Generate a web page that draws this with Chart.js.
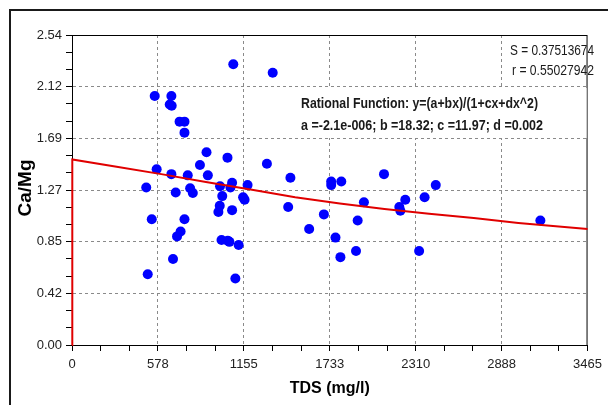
<!DOCTYPE html>
<html>
<head>
<meta charset="utf-8">
<script src="https://cdn.jsdelivr.net/npm/chart.js@4"></script>
<style>
  body { margin: 0; background: #fff; }
  #wrap { position: relative; width: 608px; height: 405px; }
</style>
</head>
<body>
<div id="wrap"><canvas id="tdsChart" width="608" height="405"></canvas></div>
<script>
//Sample values
const tds = [1084, 1349, 556, 668, 657, 670, 723, 756, 756, 904, 1045, 860, 1310, 569, 913, 668, 778, 499, 697, 794, 812, 995, 1010, 1076, 1065, 1180, 1150, 1160, 993, 984, 1076, 536, 756, 730, 706, 1005, 1047, 1058, 1120, 679, 509, 1098, 1468, 1742, 1742, 1810, 2097, 2445, 2370, 2240, 2200, 2207, 1962, 1453, 1693, 1920, 1594, 1771, 1909, 1804, 2333, 3148]
const caMg = [2.30, 2.23, 2.04, 2.04, 1.97, 1.96, 1.83, 1.83, 1.74, 1.58, 1.535, 1.475, 1.485, 1.44, 1.39, 1.40, 1.39, 1.29, 1.25, 1.285, 1.245, 1.30, 1.22, 1.33, 1.29, 1.31, 1.21, 1.19, 1.14, 1.09, 1.105, 1.03, 1.03, 0.93, 0.89, 0.86, 0.855, 0.845, 0.82, 0.705, 0.58, 0.545, 1.37, 1.34, 1.31, 1.34, 1.40, 1.31, 1.21, 1.19, 1.13, 1.10, 1.17, 1.13, 1.07, 1.02, 0.95, 0.88, 0.77, 0.72, 0.77, 1.02]

//Fitted rational curve
const fitTds = [0, 2, 300, 600, 900, 1200, 1500, 1800, 2100, 2400, 2700, 3000, 3465]
const fitCaMg = [0, 1.52, 1.46, 1.40, 1.335, 1.275, 1.21, 1.16, 1.115, 1.075, 1.04, 1.00, 0.95]

//Axis ranges (18 tick steps, every 3rd one labelled)
const xMax = 3465
const yMax = 2.54
const tickSteps = 18

const fitNote = ['Rational Function: y=(a+bx)/(1+cx+dx^2)', 'a =-2.1e-006; b =18.32; c =11.97; d =0.002']
const statNote = ['S = 0.37513674', 'r = 0.55027942']

const sans = "'Liberation Sans', Arial, sans-serif"

function stepTicks(max) {
  return function (scale) {
    const t = []
    for (let i = 0; i <= tickSteps; i++) t.push({ value: max * i / tickSteps, major: i % 3 === 0 })
    scale.ticks = t
  }
}
function isMajor(ctx) { return ctx.index % 3 === 0 }

//draws text squeezed to a given width (the original uses a narrow font)
function narrowText(ctx, txt, x, y, w, align) {
  const m = ctx.measureText(txt).width
  const k = Math.min(1, w / m)
  ctx.save()
  ctx.translate(x, y)
  ctx.scale(k, 1)
  ctx.textAlign = align
  ctx.fillText(txt, 0, 0)
  ctx.restore()
}

//frame, plot border, text boxes and axis titles
const decor = {
  id: 'decor',
  beforeDraw(chart) {
    const ctx = chart.ctx
    ctx.save()
    ctx.strokeStyle = '#1a1a1a'
    ctx.lineWidth = 2
    ctx.strokeRect(10, 10, 800, 600)
    ctx.restore()
  },
  beforeDatasetsDraw(chart) {
    const ctx = chart.ctx
    const a = chart.chartArea
    ctx.save()
    //plot border
    ctx.strokeStyle = '#000'
    ctx.lineWidth = 1
    ctx.strokeRect(a.left + 0.5, a.top + 0.5, a.right - a.left - 1, a.bottom - a.top)
    //white box behind the equation
    ctx.fillStyle = '#fff'
    ctx.fillRect(299, 88, a.right - 300, 50)
    ctx.fillStyle = '#1a1a1a'
    ctx.textBaseline = 'middle'
    ctx.font = "bold 14px " + sans
    narrowText(ctx, fitNote[0], 301, 104, 237, 'left')
    narrowText(ctx, fitNote[1], 301, 126, 242, 'left')
    ctx.font = "14px " + sans
    narrowText(ctx, statNote[0], 594, 51, 84, 'right')
    narrowText(ctx, statNote[1], 594, 71, 82, 'right')
    //axis titles
    ctx.fillStyle = '#000'
    ctx.font = "bold 16px " + sans
    ctx.textAlign = 'center'
    ctx.fillText('TDS (mg/l)', (a.left + a.right) / 2, 389)
    ctx.font = "bold 19px " + sans
    ctx.translate(26, 188)
    ctx.rotate(-Math.PI / 2)
    ctx.fillText('Ca/Mg', 0, 0)
    ctx.restore()
  }
}

new Chart("tdsChart", {
  type: "scatter",
  data: {
    datasets: [
      {
        label: "Samples",
        data: tds.map((x, i) => ({ x: x, y: caMg[i] })),
        backgroundColor: "#0000ff",
        borderWidth: 0,
        pointRadius: 5,
        order: 2
      },
      {
        label: "Fit",
        type: "line",
        data: fitTds.map((x, i) => ({ x: x, y: fitCaMg[i] })),
        borderColor: "#e00000",
        borderWidth: 2,
        pointRadius: 0,
        fill: false,
        tension: 0,
        clip: 3,
        order: 1
      }
    ]
  },
  options: {
    responsive: false,
    animation: false,
    events: [],
    layout: { padding: { left: 0, top: 35, right: 12, bottom: 0 } },
    plugins: { legend: { display: false }, tooltip: { enabled: false } },
    scales: {
      x: {
        type: "linear",
        min: 0,
        max: xMax,
        afterBuildTicks: stepTicks(xMax),
        afterFit(scale) { scale.height = 60 },
        grid: {
          color: ctx => (isMajor(ctx) && ctx.index > 0 && ctx.index < tickSteps) ? '#8a8a8a' : 'rgba(0,0,0,0)',
          tickColor: '#000',
          tickLength: 6,
          lineWidth: 1
        },
        border: { display: true, color: '#000', width: 1, dash: [3, 3] },
        ticks: {
          autoSkip: false,
          maxRotation: 0,
          padding: 6,
          color: '#222',
          font: { family: sans, size: 13 },
          callback: (v, i) => i % 3 === 0 ? String(Math.round(v)) : ''
        }
      },
      y: {
        type: "linear",
        min: 0,
        max: yMax,
        afterBuildTicks: stepTicks(yMax),
        afterFit(scale) { scale.width = 72 },
        grid: {
          color: ctx => (isMajor(ctx) && ctx.index > 0 && ctx.index < tickSteps) ? '#8a8a8a' : 'rgba(0,0,0,0)',
          tickColor: '#000',
          tickLength: 6,
          lineWidth: 1
        },
        border: { display: true, color: '#000', width: 1, dash: [3, 3] },
        ticks: {
          autoSkip: false,
          padding: 4,
          color: '#222',
          font: { family: sans, size: 13 },
          callback: (v, i) => i % 3 === 0 ? v.toFixed(2) : ''
        }
      }
    }
  },
  plugins: [decor]
});
</script>
</body>
</html>
